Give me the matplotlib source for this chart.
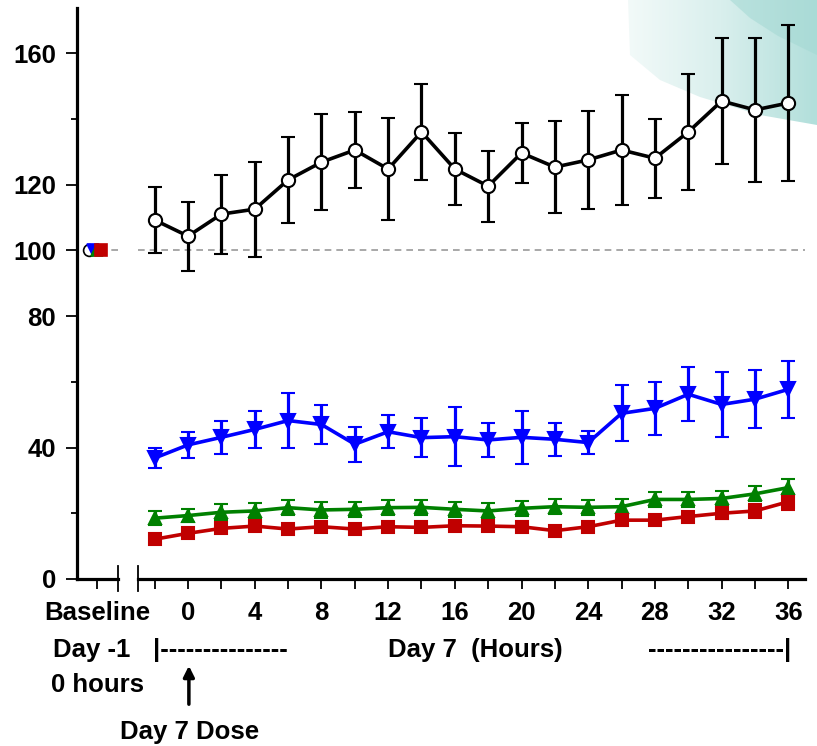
import matplotlib
matplotlib.use('Agg')
import matplotlib.pyplot as plt
import numpy as np
from matplotlib.patches import Polygon
from matplotlib.transforms import blended_transform_factory

plt.rcParams['font.family'] = ['Liberation Sans', 'DejaVu Sans']
plt.rcParams['font.weight'] = 'bold'

# hours after the day-7 dose
hours = [-2, 0, 2, 4, 6, 8, 10, 12, 14, 16, 18, 20, 22, 24, 26, 28, 30, 32, 34, 36]

black_mean = [109.2, 104.3, 111.0, 112.5, 121.4, 126.8, 130.5, 124.7, 136.0, 124.7,
              119.5, 129.6, 125.3, 127.5, 130.5, 128.0, 136.0, 145.4, 142.7, 144.8]
black_err = [10.0, 10.5, 12.0, 14.5, 13.0, 14.6, 11.5, 15.5, 14.5, 11.0,
             10.8, 9.0, 14.0, 15.0, 16.7, 12.0, 17.7, 19.3, 22.0, 23.7]

blue_mean = [36.8, 40.8, 43.1, 45.5, 48.2, 47.0, 41.0, 44.8, 43.0, 43.3,
             42.3, 43.1, 42.5, 41.5, 50.4, 51.9, 56.2, 53.1, 54.7, 57.7]
blue_err = [3.0, 4.0, 5.0, 5.5, 8.5, 6.0, 5.3, 5.0, 6.0, 9.0,
            5.3, 8.0, 5.0, 3.5, 8.5, 8.0, 8.2, 10.0, 8.8, 8.7]

green_mean = [18.5, 19.3, 20.3, 20.7, 21.7, 21.0, 21.2, 21.7, 21.8, 21.2,
              20.7, 21.5, 22.0, 21.8, 22.0, 24.2, 24.2, 24.5, 25.9, 27.8]
green_err = [2.2, 2.0, 2.5, 2.3, 2.3, 2.3, 2.3, 2.3, 2.3, 2.3,
             2.3, 2.3, 2.3, 2.3, 2.3, 2.3, 2.3, 2.3, 2.3, 2.5]

red_mean = [12.1, 13.9, 15.4, 16.1, 15.2, 15.9, 15.2, 15.9, 15.7, 16.2,
            16.1, 15.9, 14.7, 15.9, 17.9, 17.9, 19.0, 20.0, 20.7, 23.5]
red_err = [1.5, 1.5, 1.5, 1.5, 1.5, 1.5, 1.5, 1.5, 1.5, 1.5,
           1.5, 1.5, 1.5, 1.5, 1.5, 1.5, 1.5, 1.8, 2.0, 2.5]

baseline_x = [-5.94, -5.7, -5.46, -5.2]
baseline_val = 100

y_major = [0, 40, 80, 100, 120, 160]
y_minor = [20, 60, 140]
x_labels = [0, 4, 8, 12, 16, 20, 24, 28, 32, 36]
x_minor = [-2, 2, 6, 10, 14, 18, 22, 26, 30, 34]
baseline_tick = -5.46

FS = 18.5


def main():
    fig = plt.figure(figsize=(8.17, 7.46), dpi=100)
    H = 746.0

    def fy(p):
        return 1 - p / H

    # decorative teal swoosh in the top right corner
    bg = fig.add_axes([0, 0, 1, 1], zorder=0)
    bg.set_xlim(0, 817)
    bg.set_ylim(746, 0)
    bg.axis('off')
    grad = np.linspace(0, 1, 200)[None, :]
    cmap = matplotlib.colors.LinearSegmentedColormap.from_list(
        'tl', ['#f3faf9', '#d9efed', '#b2dfdb'])
    img = bg.imshow(grad, extent=[625, 817, 130, 0], cmap=cmap, aspect='auto')
    clip = Polygon([[628, 0], [630, 55], [660, 80], [700, 97], [760, 115], [817, 125], [817, 0]],
                   closed=True, transform=bg.transData, facecolor='none', edgecolor='none')
    bg.add_patch(clip)
    img.set_clip_path(clip)
    swoosh = Polygon([[730, 0], [750, 18], [778, 36], [817, 55], [817, 0]], closed=True,
                     facecolor='#a3d8d3', edgecolor='none', alpha=0.55)
    bg.add_patch(swoosh)

    ax = fig.add_axes([77 / 817, 1 - 579 / H, 733 / 817, (579 - 8) / H], zorder=1)
    ax.patch.set_alpha(0)
    ax.set_xlim(-6.66, 37.3)
    ax.set_ylim(0, 173.7)

    for s in ['top', 'right', 'bottom']:
        ax.spines[s].set_visible(False)
    ax.spines['left'].set_linewidth(2.3)

    # broken x axis
    tb = blended_transform_factory(ax.transData, ax.transAxes)
    ax.plot([-6.66, -4.2], [0, 0], color='black', lw=2.3, transform=tb, clip_on=False, zorder=5)
    ax.plot([-3.0, 37.0], [0, 0], color='black', lw=2.3, transform=tb, clip_on=False, zorder=5)
    ax.plot([-4.2, -4.2], [0.023, -0.021], color='black', lw=1.3, transform=tb, clip_on=False)
    ax.plot([-3.0, -3.0], [0.023, -0.021], color='black', lw=1.3, transform=tb, clip_on=False)

    # reference line at 100
    ax.plot([-6.0, -4.2], [100, 100], color='#999999', lw=1.2, ls=(0, (4, 3)), zorder=1)
    ax.plot([-3.0, 37.0], [100, 100], color='#999999', lw=1.2, ls=(0, (4, 3)), zorder=1)

    ax.set_yticks(y_major)
    ax.set_yticks(y_minor, minor=True)
    ax.set_yticklabels([str(v) for v in y_major], fontsize=FS, fontweight='bold')
    ax.tick_params(axis='y', which='major', length=8, width=1.3, pad=7)
    ax.tick_params(axis='y', which='minor', length=4.5, width=1.3)

    ax.set_xticks([baseline_tick] + x_labels)
    ax.set_xticklabels(['Baseline'] + [str(v) for v in x_labels], fontsize=FS, fontweight='bold')
    ax.set_xticks(x_minor, minor=True)
    ax.tick_params(axis='x', which='both', length=7, width=1.3, pad=9)

    series = [
        (black_mean, black_err, 'black', 'o', 'white', 9.5),
        (blue_mean, blue_err, '#0000ff', 'v', '#0000ff', 10),
        (green_mean, green_err, '#008000', '^', '#008000', 9),
        (red_mean, red_err, '#c00000', 's', '#c00000', 8),
    ]
    for mean, err, col, mk, face, ms in series:
        ax.errorbar(hours, mean, yerr=err, color=col, lw=2.6, marker=mk, ms=ms,
                    mfc=face, mec=col, mew=1.5, elinewidth=2.3, capsize=5, capthick=2.8, zorder=3)

    for bx, (_, _, col, mk, face, _) in zip(baseline_x, series):
        ax.plot([bx], [baseline_val], marker=mk, ms=8.5, color=col, mfc=face, mec=col, mew=1.2,
                ls='none', zorder=4)

    # annotation rows below the axis
    tx = blended_transform_factory(ax.transData, fig.transFigure)
    kw = dict(fontsize=FS, fontweight='bold', transform=tx, va='center')
    ax.text(-5.8, fy(650), 'Day -1', ha='center', **kw)
    ax.text(-5.45, fy(685), '0 hours', ha='center', **kw)
    ax.text(-2.1, fy(650), '|---------------', ha='left', **kw)
    ax.text(17.2, fy(650), 'Day 7  (Hours)', ha='center', **kw)
    ax.text(36.2, fy(650), '----------------|', ha='right', **kw)
    ax.text(0.1, fy(732), 'Day 7 Dose', ha='center', **kw)
    ax.annotate('', xy=(0.05, fy(663)), xytext=(0.05, fy(707)), xycoords=tx, textcoords=tx,
                arrowprops=dict(arrowstyle='-|>', color='black', lw=2.5, mutation_scale=16))

    fig.savefig('out.png', dpi=100)


if __name__ == '__main__':
    main()
